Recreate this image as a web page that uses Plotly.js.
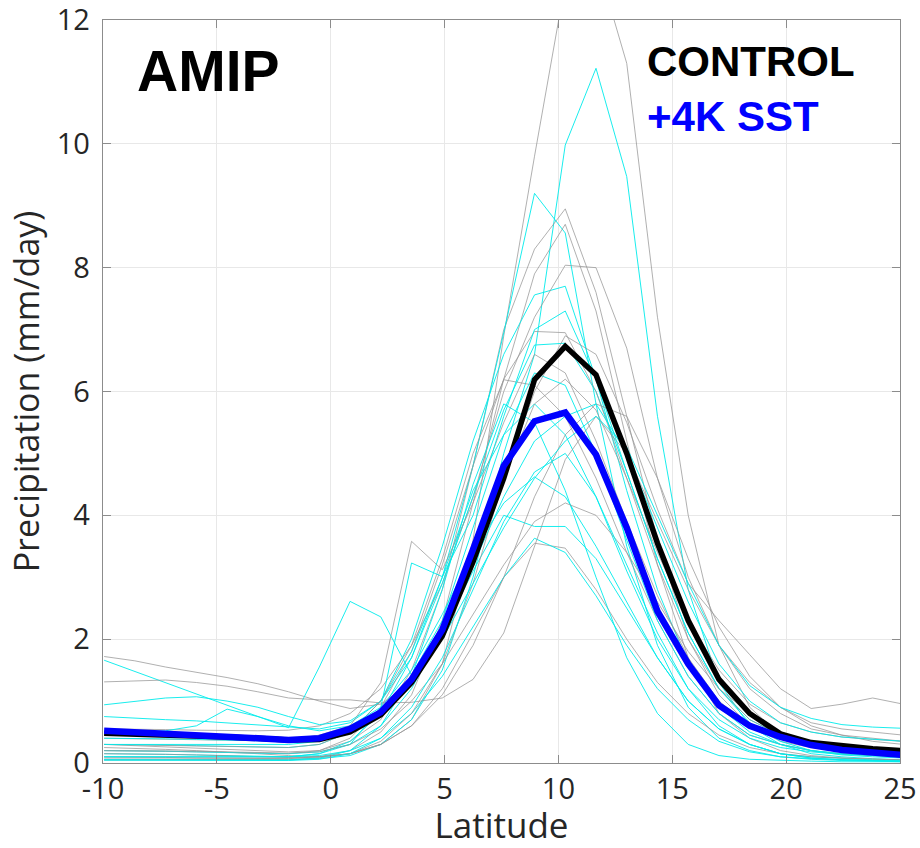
<!DOCTYPE html>
<html>
<head>
<meta charset="utf-8">
<script src="https://cdn.plot.ly/plotly-3.0.1.min.js"></script>
<style>html,body{margin:0;padding:0;background:#fff;}#chart{width:920px;height:848px;}</style>
</head>
<body>
<div id="chart"></div>
<script>
// Latitude grid (degrees)
var lat = [-9.95,-8.6,-7.25,-5.9,-4.55,-3.2,-1.85,-0.5,0.85,2.2,3.55,4.9,6.25,7.6,8.95,10.3,11.65,13.0,14.35,15.7,17.05,18.4,19.75,21.1,22.45,23.8,25.15];

// Individual CONTROL models (mm/day)
var g1  = [0.25,0.24,0.22,0.2,0.18,0.15,0.12,0.1,0.15,0.3,0.7,1.6,3.6,6.9,9.8,12.6,13.0,11.3,7.2,4.0,1.9,0.9,0.45,0.3,0.2,0.15,0.12];
var g2  = [0.3,0.28,0.26,0.24,0.22,0.2,0.18,0.2,0.35,0.7,1.5,2.8,4.8,7.0,8.3,8.95,7.6,5.6,3.6,2.0,1.1,0.6,0.35,0.25,0.2,0.15,0.12];
var g3  = [0.1,0.1,0.09,0.08,0.08,0.07,0.07,0.1,0.2,0.5,1.1,2.3,4.2,6.2,7.9,8.7,7.3,5.2,3.2,1.7,0.8,0.4,0.2,0.12,0.08,0.06,0.05];
var g4  = [0.55,0.55,0.54,0.53,0.52,0.52,0.53,0.6,0.8,1.2,1.9,2.9,4.3,6.0,7.2,8.04,8.0,6.7,4.6,3.0,1.9,1.2,0.8,0.55,0.45,0.4,0.35];
var g5  = [0.2,0.2,0.19,0.18,0.17,0.16,0.15,0.2,0.4,0.9,1.8,3.2,4.8,6.2,6.97,6.95,6.0,4.6,3.2,2.0,1.2,0.7,0.45,0.3,0.22,0.18,0.15];
var g6  = [0.3,0.29,0.28,0.27,0.26,0.25,0.25,0.3,0.5,1.0,1.9,3.3,5.0,6.19,6.1,5.6,4.6,3.4,2.3,1.4,0.8,0.45,0.3,0.2,0.15,0.12,0.1];
var g7  = [0.15,0.15,0.14,0.13,0.12,0.1,0.09,0.1,0.15,0.3,0.6,1.2,2.1,3.0,3.55,3.47,2.8,2.0,1.3,0.8,0.45,0.25,0.15,0.1,0.08,0.06,0.05];
var g8  = [0.4,0.39,0.38,0.37,0.36,0.36,0.38,0.45,0.6,1.3,3.58,3.12,4.2,5.5,6.6,6.3,5.2,3.9,2.7,1.7,1.0,0.6,0.4,0.3,0.25,0.2,0.18];
var g9  = [1.72,1.65,1.55,1.47,1.38,1.28,1.15,1.0,0.88,0.95,1.3,2.0,3.2,4.6,5.8,6.2,5.7,4.6,3.4,2.3,1.5,0.95,0.65,0.5,0.42,0.38,0.35];
var g10 = [1.31,1.33,1.34,1.3,1.24,1.15,1.05,1.02,1.02,0.97,0.98,1.05,1.35,2.1,3.5,4.9,5.6,5.0,3.9,2.8,1.9,1.3,0.9,0.65,0.55,0.5,0.45];
var g11 = [0.05,0.05,0.05,0.05,0.05,0.05,0.06,0.08,0.15,0.35,0.8,1.6,2.9,4.6,6.0,6.9,6.6,5.5,4.1,2.9,2.3,1.75,1.2,0.88,0.95,1.05,0.95];
var g12 = [0.08,0.08,0.08,0.08,0.08,0.08,0.08,0.1,0.15,0.3,0.6,1.1,1.9,3.0,4.3,5.3,5.8,5.6,4.6,3.3,2.2,1.4,0.9,0.6,0.45,0.35,0.3];
var g13 = [0.2,0.2,0.2,0.19,0.18,0.17,0.16,0.18,0.3,0.55,1.0,1.6,2.4,3.2,3.9,4.2,4.0,3.4,2.6,1.8,1.2,0.8,0.5,0.35,0.25,0.2,0.18];

// Individual +4K SST models (mm/day)
var c1  = [0.05,0.05,0.05,0.05,0.05,0.05,0.05,0.07,0.12,0.3,0.7,1.5,3.0,5.0,6.6,9.98,11.22,9.47,5.6,2.8,1.3,0.6,0.3,0.15,0.1,0.07,0.05];
var c2  = [0.15,0.15,0.14,0.13,0.12,0.11,0.1,0.15,0.35,0.8,1.7,3.0,4.8,6.95,9.2,8.56,5.8,3.5,1.9,0.9,0.4,0.2,0.1,0.07,0.05,0.04,0.03];
var c3  = [0.3,0.3,0.29,0.28,0.27,0.26,0.25,0.3,0.5,1.0,2.0,3.5,5.2,6.6,7.56,7.7,6.2,4.4,2.8,1.6,0.9,0.5,0.3,0.2,0.15,0.12,0.1];
var c4  = [0.94,1.0,1.05,1.07,1.0,0.9,0.75,0.62,0.68,1.0,1.7,2.9,4.3,5.7,6.75,6.78,6.0,4.7,3.3,2.1,1.2,0.7,0.45,0.32,0.25,0.2,0.17];
var c5  = [0.75,0.72,0.7,0.68,0.65,0.62,0.58,0.55,0.65,1.0,1.8,3.0,4.4,5.3,5.8,5.3,4.3,3.1,2.0,1.2,0.7,0.4,0.25,0.18,0.14,0.12,0.1];
var c6  = [0.45,0.5,0.52,0.6,0.87,0.75,0.6,0.52,0.6,0.9,1.5,2.4,3.4,4.2,4.62,4.3,3.5,2.6,1.7,1.0,0.55,0.3,0.15,0.1,0.07,0.05,0.04];
var c7  = [0.2,0.2,0.19,0.18,0.17,0.16,0.15,0.18,0.3,0.6,1.2,2.1,3.1,4.0,3.82,3.82,3.3,2.5,1.7,1.0,0.55,0.3,0.15,0.08,0.05,0.04,0.03];
var c8  = [0.1,0.1,0.1,0.1,0.1,0.1,0.1,0.12,0.2,0.4,0.8,1.4,2.2,3.0,3.63,3.4,2.7,1.9,1.2,0.7,0.35,0.18,0.1,0.06,0.04,0.03,0.02];
var c9  = [1.66,1.48,1.3,1.12,0.93,0.75,0.57,1.55,2.61,2.36,1.42,2.3,3.8,5.3,6.3,6.1,5.0,3.6,2.3,1.4,0.8,0.45,0.3,0.2,0.15,0.12,0.1];
var c10 = [0.1,0.1,0.1,0.1,0.1,0.1,0.1,0.15,0.3,0.9,3.23,3.01,4.0,5.6,7.0,7.3,6.2,4.7,3.3,2.1,1.2,0.65,0.35,0.2,0.13,0.1,0.08];
var c11 = [0.05,0.05,0.05,0.05,0.05,0.05,0.05,0.08,0.2,0.6,1.4,2.8,4.5,5.8,5.5,4.4,3.0,1.7,0.8,0.3,0.12,0.06,0.04,0.03,0.02,0.02,0.02];
var c12 = [0.3,0.3,0.3,0.3,0.3,0.3,0.3,0.35,0.5,0.8,1.3,2.0,2.9,3.8,4.6,5.2,5.6,5.1,4.0,2.9,1.9,1.25,0.9,0.72,0.62,0.58,0.56];
var c13 = [0.4,0.4,0.39,0.38,0.37,0.36,0.35,0.4,0.55,0.85,1.4,2.2,3.2,4.3,5.2,5.6,5.8,5.0,3.8,2.6,1.6,1.0,0.65,0.5,0.42,0.38,0.35];
var c14 = [0.05,0.05,0.05,0.05,0.04,0.04,0.04,0.06,0.15,0.4,0.9,1.7,2.8,3.9,4.7,5.0,4.3,3.2,2.1,1.2,0.6,0.3,0.15,0.08,0.05,0.04,0.03];

// Multi-model means
var controlMean = [0.48,0.47,0.46,0.44,0.42,0.40,0.37,0.38,0.50,0.78,1.30,2.05,3.25,4.60,6.19,6.73,6.27,5.00,3.55,2.30,1.35,0.80,0.47,0.33,0.27,0.23,0.20];
var warmMean    = [0.52,0.50,0.48,0.46,0.43,0.40,0.37,0.40,0.55,0.82,1.35,2.15,3.45,4.80,5.52,5.66,4.98,3.80,2.45,1.60,0.93,0.60,0.42,0.29,0.21,0.16,0.13];

var controlModels = [g1,g2,g3,g4,g5,g6,g7,g8,g9,g10,g11,g12,g13];
var warmModels = [c1,c2,c3,c4,c5,c6,c7,c8,c9,c10,c11,c12,c13,c14];

var traces = [];
var n = Math.max(controlModels.length, warmModels.length);
for (var i = 0; i < n; i++) {
  if (i < controlModels.length) traces.push({x: lat, y: controlModels[i], type: 'scatter', mode: 'lines', line: {color: 'rgba(150,150,150,0.75)', width: 1}, hoverinfo: 'skip'});
  if (i < warmModels.length) traces.push({x: lat, y: warmModels[i], type: 'scatter', mode: 'lines', line: {color: 'rgba(0,235,235,0.9)', width: 1}, hoverinfo: 'skip'});
}
traces.push({x: lat, y: controlMean, type: 'scatter', mode: 'lines', line: {color: '#000000', width: 5.5}});
traces.push({x: lat, y: warmMean, type: 'scatter', mode: 'lines', line: {color: '#0000ff', width: 6.5}});

var xTicks = [-10,-5,0,5,10,15,20,25];
var yTicks = [0,2,4,6,8,10,12];

var fam = 'Open Sans, DejaVu Sans, sans-serif';
var tickFont = {family: fam, size: 29, color: '#262626'};
var layout = {
  width: 920, height: 848,
  margin: {l: 103, r: 20, t: 20, b: 85},
  paper_bgcolor: '#ffffff', plot_bgcolor: '#ffffff',
  showlegend: false,
  xaxis: {
    range: [-10, 25], tickvals: xTicks, ticktext: xTicks.map(String),
    ticks: 'inside', ticklen: 8, tickcolor: '#8c8c8c', tickwidth: 1,
    showline: true, mirror: 'ticks', linecolor: '#8c8c8c', linewidth: 1.3,
    showgrid: true, gridcolor: '#e8e8e8', gridwidth: 1, zeroline: false,
    tickfont: tickFont, ticklabelstandoff: 0, ticklabeloverflow: 'allow',
    title: {text: 'Latitude', font: {family: fam, size: 35, color: '#262626'}, standoff: 8}
  },
  yaxis: {
    range: [0, 12], tickvals: yTicks, ticktext: yTicks.map(String),
    ticks: 'inside', ticklen: 8, tickcolor: '#8c8c8c', tickwidth: 1,
    showline: true, mirror: 'ticks', linecolor: '#8c8c8c', linewidth: 1.3,
    showgrid: true, gridcolor: '#e8e8e8', gridwidth: 1, zeroline: false,
    tickfont: tickFont, ticklabelstandoff: 6, ticklabeloverflow: 'allow',
    title: {text: 'Precipitation (mm/day)', font: {family: fam, size: 34, color: '#262626'}, standoff: 6}
  },
  annotations: [
    {xref: 'paper', yref: 'paper', x: (135 - 102.7) / 797.3, y: (763 - 71) / 743, xanchor: 'left', yanchor: 'middle', showarrow: false,
     text: '<b>AMIP</b>', font: {family: 'Liberation Sans, Arial, sans-serif', size: 57, color: '#000000'}},
    {xref: 'paper', yref: 'paper', x: (645 - 102.7) / 797.3, y: (763 - 62) / 743, xanchor: 'left', yanchor: 'middle', showarrow: false,
     text: '<b>CONTROL</b>', font: {family: 'Liberation Sans, Arial, sans-serif', size: 42, color: '#000000'}},
    {xref: 'paper', yref: 'paper', x: (645 - 102.7) / 797.3, y: (763 - 117) / 743, xanchor: 'left', yanchor: 'middle', showarrow: false,
     text: '<b>+4K SST</b>', font: {family: 'Liberation Sans, Arial, sans-serif', size: 42, color: '#0000ff'}}
  ]
};

Plotly.newPlot('chart', traces, layout, {displayModeBar: false, staticPlot: true});
</script>
</body>
</html>
